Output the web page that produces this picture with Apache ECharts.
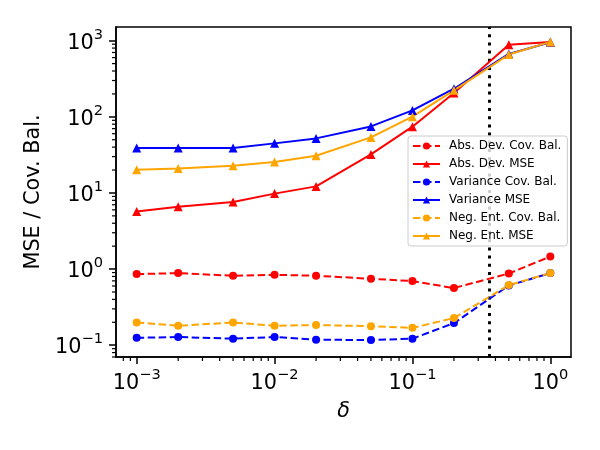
<!DOCTYPE html>
<html>
<head>
<meta charset="utf-8">
<script src="https://cdn.jsdelivr.net/npm/echarts@6/dist/echarts.min.js"></script>
<style>html,body{margin:0;padding:0;background:#fff;}#c{width:600px;height:450px;}</style>
</head>
<body>
<div id="c"></div>
<script>
const deltas = [0.001, 0.002, 0.005, 0.01, 0.02, 0.05, 0.1, 0.2, 0.5, 1.0];
const absDevCovBal = [0.86, 0.885, 0.817, 0.84, 0.817, 0.746, 0.695, 0.563, 0.875, 1.46];
const absDevMSE = [5.7, 6.6, 7.6, 9.8, 12.2, 32.1, 74.2, 206, 885, 960];
const varCovBal = [0.125, 0.128, 0.122, 0.128, 0.118, 0.117, 0.122, 0.195, 0.608, 0.885];
const varMSE = [38.9, 38.9, 38.9, 44.8, 52.1, 74.8, 121.5, 234, 670, 952];
const negEntCovBal = [0.199, 0.18, 0.199, 0.18, 0.184, 0.178, 0.169, 0.227, 0.616, 0.885];
const negEntMSE = [20.2, 21.0, 22.8, 25.5, 30.8, 53.7, 100.4, 223, 658, 964];
const thresholdDelta = 0.36;
const xLabel = 'δ';
const yLabel = 'MSE / Cov. Bal.';
const xDecades = [-4, -3, -2, -1, 0];
const yDecades = [-2, -1, 0, 1, 2, 3];
const minorMultipliers = [2, 3, 4, 5, 6, 7, 8, 9];

const FONT = 'DejaVu Sans';
const X_MIN = Math.pow(10, -3.15), X_MAX = Math.pow(10, 0.15);
const Y_MIN = Math.pow(10, -1.155), Y_MAX = Math.pow(10, 3.18);

function pair(xs, ys) { return xs.map((x, i) => [x, ys[i]]); }
function minorVals(decades, lo, hi) {
  const out = [];
  decades.forEach(d => minorMultipliers.forEach(m => {
    const v = m * Math.pow(10, d);
    if (v > lo && v < hi) out.push(v);
  }));
  return out;
}
function powLabel(v) {
  const e = Math.log10(v);
  const r = Math.round(e);
  if (Math.abs(e - r) > 1e-6) return '';
  const exp = (r < 0 ? '\u2212' : '') + Math.abs(r);
  return '{b|10}{s|' + exp + '}';
}
const richLab = {
  b: { fontSize: 20.8, fontFamily: FONT, color: '#000', lineHeight: 26, verticalAlign: 'bottom' },
  s: { fontSize: 14.6, fontFamily: FONT, color: '#000', lineHeight: 14, verticalAlign: 'top' }
};
function mk(name, data, color, dashed, symbol, size) {
  return {
    name: name, type: 'line', data: pair(deltas, data),
    symbol: symbol, symbolSize: size, showSymbol: true,
    lineStyle: { color: color, width: 2, type: dashed ? [7.5, 3.5] : 'solid' },
    itemStyle: { color: color },
    emphasis: { disabled: true }, animation: false
  };
}
const series = [
  mk('Abs. Dev. Cov. Bal.', absDevCovBal, '#ff0000', true, 'circle', 8),
  mk('Abs. Dev. MSE', absDevMSE, '#ff0000', false, 'triangle', 9),
  mk('Variance Cov. Bal.', varCovBal, '#0000ff', true, 'circle', 8),
  mk('Variance MSE', varMSE, '#0000ff', false, 'triangle', 9),
  mk('Neg. Ent. Cov. Bal.', negEntCovBal, '#ffa500', true, 'circle', 8),
  mk('Neg. Ent. MSE', negEntMSE, '#ffa500', false, 'triangle', 9)
];
series[0].markLine = {
  silent: true, symbol: 'none', animation: false, z: 3,
  label: { show: false },
  lineStyle: { color: '#000', width: 3, type: [3, 5.2] },
  data: [{ xAxis: thresholdDelta }]
};

const chart = echarts.init(document.getElementById('c'), null, { renderer: 'canvas' });
chart.setOption({
  animation: false,
  backgroundColor: '#fff',
  grid: { left: 116, right: 29, top: 27, bottom: 93, show: true, borderColor: '#000', borderWidth: 1.5, backgroundColor: 'transparent' },
  legend: {
    orient: 'vertical', left: 408, top: 136, z: 10,
    itemWidth: 27, itemHeight: 9, itemGap: 4,
    padding: [3, 6, 3, 4],
    backgroundColor: 'rgba(255,255,255,0.8)', borderColor: '#cccccc', borderWidth: 1, borderRadius: 3,
    textStyle: { fontFamily: FONT, fontSize: 12, color: '#000', lineHeight: 14, padding: [0, 0, 0, 4] },
    data: series.map(s => s.name)
  },
  xAxis: {
    type: 'log', logBase: 10,
    min: X_MIN, max: X_MAX,
    name: xLabel, nameLocation: 'middle', nameGap: 44,
    nameTextStyle: { fontFamily: FONT, fontSize: 20.8, fontStyle: 'italic', color: '#000' },
    axisLine: { lineStyle: { color: '#000', width: 1.5 } },
    axisTick: { show: true, inside: false, length: 7, lineStyle: { color: '#000', width: 1.5 } },
    axisLabel: { margin: 11, formatter: powLabel, rich: richLab, showMinLabel: false, showMaxLabel: false },
    splitLine: { show: false }
  },
  yAxis: {
    type: 'log', logBase: 10,
    min: Y_MIN, max: Y_MAX,
    name: yLabel, nameLocation: 'middle', nameGap: 72, nameRotate: 90,
    nameTextStyle: { fontFamily: FONT, fontSize: 20.8, color: '#000' },
    axisLine: { lineStyle: { color: '#000', width: 1.5 } },
    axisTick: { show: true, inside: false, length: 7, lineStyle: { color: '#000', width: 1.5 } },
    axisLabel: { margin: 13, formatter: powLabel, rich: richLab, showMinLabel: false, showMaxLabel: false },
    splitLine: { show: false }
  },
  series: series
});

// matplotlib-style log minor ticks, positioned through the chart's own axis scales
const gridFinder = { xAxisIndex: 0, yAxisIndex: 0 };
const yBottom = chart.convertToPixel(gridFinder, [1, Y_MIN])[1];
const xLeft = chart.convertToPixel(gridFinder, [X_MIN, 1])[0];
const minorTicks = [];
minorVals(xDecades, X_MIN, X_MAX).forEach(v => {
  const x = chart.convertToPixel(gridFinder, [v, 1])[0];
  minorTicks.push({ type: 'line', silent: true, z: 50, shape: { x1: x, y1: yBottom, x2: x, y2: yBottom + 4 }, style: { stroke: '#000', lineWidth: 1.2 } });
});
minorVals(yDecades, Y_MIN, Y_MAX).forEach(v => {
  const y = chart.convertToPixel(gridFinder, [1, v])[1];
  minorTicks.push({ type: 'line', silent: true, z: 50, shape: { x1: xLeft - 4, y1: y, x2: xLeft, y2: y }, style: { stroke: '#000', lineWidth: 1.2 } });
});
chart.setOption({ graphic: minorTicks });
</script>
</body>
</html>
